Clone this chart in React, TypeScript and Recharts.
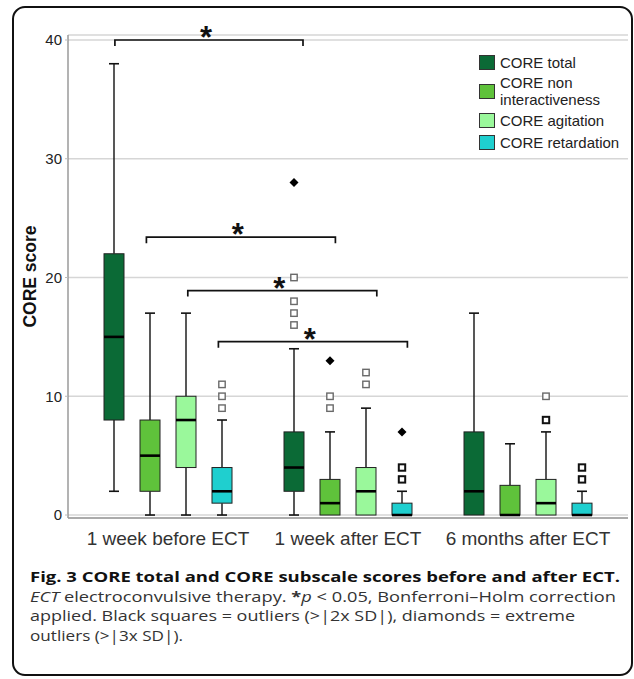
import {
  Bar,
  CartesianGrid,
  ComposedChart,
  Legend,
  ReferenceLine,
  XAxis,
  YAxis,
} from 'recharts';

const groups = ['1 week before ECT', '1 week after ECT', '6 months after ECT'];
const groupPos = [0.5, 1.5, 2.5];
const seriesKeys = ['total', 'nonInter', 'agitation', 'retardation'];
const seriesNames = ['CORE total', 'CORE non interactiveness', 'CORE agitation', 'CORE retardation'];
const seriesColors = ['#0b6a36', '#5fc23b', '#9af89b', '#1fcfcf'];

// [min, Q1, median, Q3, max] per time point
const totalStats = [[2, 8, 15, 22, 38], [0, 2, 4, 7, 14], [0, 0, 2, 7, 17]];
const nonInterStats = [[0, 2, 5, 8, 17], [0, 0, 1, 3, 7], [0, 0, 0, 2.5, 6]];
const agitationStats = [[0, 4, 8, 10, 17], [0, 0, 2, 4, 9], [0, 0, 1, 3, 7]];
const retardationStats = [[0, 1, 2, 4, 8], [0, 0, 0, 1, 2], [0, 0, 0, 1, 2]];

// 'o' = outlier (grey square), 'b' = outlier (black square), 'x' = extreme (diamond)
const totalOutliers = [[], [[16, 'o'], [17, 'o'], [18, 'o'], [20, 'o'], [28, 'x']], []];
const nonInterOutliers = [[], [[9, 'o'], [10, 'o'], [13, 'x']], []];
const agitationOutliers = [[], [[11, 'o'], [12, 'o']], [[8, 'b'], [10, 'o']]];
const retardationOutliers = [[[9, 'o'], [10, 'o'], [11, 'o']], [[3, 'b'], [4, 'b'], [7, 'x']], [[3, 'b'], [4, 'b']]];

// significance brackets (position on the time-point axis, score level)
const bracketFrom = [0.205, 0.38, 0.61, 0.78];
const bracketTo = [1.25, 1.43, 1.66, 1.83];
const bracketY = [40, 23.4, 18.9, 14.6];

const yTicks = [0, 10, 20, 30, 40];

const statsBySeries: Record<string, number[][]> = {
  total: totalStats,
  nonInter: nonInterStats,
  agitation: agitationStats,
  retardation: retardationStats,
};
const outliersBySeries: Record<string, (number | string)[][][]> = {
  total: totalOutliers,
  nonInter: nonInterOutliers,
  agitation: agitationOutliers,
  retardation: retardationOutliers,
};

const data = groups.map((name, i) => {
  const row: any = { name, pos: groupPos[i], stats: {}, outliers: {} };
  seriesKeys.forEach((k) => {
    const s = statsBySeries[k][i];
    row[k] = [s[0], s[4]];
    row.stats[k] = s;
    row.outliers[k] = outliersBySeries[k][i];
  });
  return row;
});

const FONT = '"Liberation Sans", Arial, sans-serif';

function BoxShape(props: any) {
  const { x, y, width, height, payload, skey, color } = props;
  const [mn, q1, md, q3, mx] = payload.stats[skey];
  const k = height / (mx - mn);
  const py = (v: number) => y + (mx - v) * k;
  const cx = x + width / 2;
  const cap = 5;
  return (
    <g>
      {mx > q3 ? (
        <>
          <line x1={cx} x2={cx} y1={py(mx)} y2={py(q3)} stroke="#111" strokeWidth={1.4} />
          <line x1={cx - cap} x2={cx + cap} y1={py(mx)} y2={py(mx)} stroke="#111" strokeWidth={1.6} />
        </>
      ) : null}
      {mn < q1 ? (
        <>
          <line x1={cx} x2={cx} y1={py(q1)} y2={py(mn)} stroke="#111" strokeWidth={1.4} />
          <line x1={cx - cap} x2={cx + cap} y1={py(mn)} y2={py(mn)} stroke="#111" strokeWidth={1.6} />
        </>
      ) : null}
      <rect x={x} y={py(q3)} width={width} height={py(q1) - py(q3)} fill={color} stroke="#222" strokeWidth={1} />
      <line x1={x} x2={x + width} y1={py(md)} y2={py(md)} stroke="#000" strokeWidth={2.6} />
      {payload.outliers[skey].map(([v, kind]: [number, string], i: number) => {
        const oy = py(v);
        if (kind === 'x') {
          return <path key={i} d={`M${cx},${oy - 4.5}L${cx + 4.5},${oy}L${cx},${oy + 4.5}L${cx - 4.5},${oy}Z`} fill="#000" />;
        }
        return (
          <rect
            key={i}
            x={cx - 3.2}
            y={oy - 3.2}
            width={6.4}
            height={6.4}
            fill="#fff"
            stroke={kind === 'b' ? '#111' : '#6a6a6a'}
            strokeWidth={kind === 'b' ? 2 : 1.4}
          />
        );
      })}
    </g>
  );
}

function Bracket(props: any) {
  const { x1, y1, x2 } = props;
  const drop = 6;
  return (
    <g>
      <path d={`M${x1},${y1 + drop}V${y1}H${x2}V${y1 + drop}`} fill="none" stroke="#111" strokeWidth={1.7} />
      <text x={(x1 + x2) / 2 - 3} y={y1 + 8} textAnchor="middle" fontSize={31} fontWeight="bold" fontFamily={FONT} fill="#111">
        *
      </text>
    </g>
  );
}

function YLabel({ viewBox }: any) {
  const x = (viewBox?.x ?? 0) + 30;
  const y = (viewBox?.y ?? 0) + (viewBox?.height ?? 0) / 2;
  return (
    <text x={x} y={y} transform={`rotate(-90, ${x}, ${y})`} textAnchor="middle" dominantBaseline="central" fontSize={17.5} fontWeight="bold" fontFamily={FONT} fill="#111">
      CORE score
    </text>
  );
}

function LegendBox() {
  return (
    <div style={{ fontFamily: FONT, fontSize: 15, color: '#222' }}>
      {seriesNames.map((name, i) => {
        const lines = name === 'CORE non interactiveness' ? ['CORE non', 'interactiveness'] : [name];
        const multi = lines.length > 1;
        return (
          <div key={name} style={{ display: 'flex', alignItems: 'center', padding: multi ? '1px 0' : '3.5px 0' }}>
            <span style={{ width: 14, height: 13, background: seriesColors[i], border: '1px solid #333', marginRight: 5, flex: 'none' }} />
            <span style={{ lineHeight: multi ? '17px' : '15px' }}>
              {lines.map((l) => (
                <div key={l}>{l}</div>
              ))}
            </span>
          </div>
        );
      })}
    </div>
  );
}

export default function App() {
  return (
    <div style={{ position: 'absolute', left: 0, top: 0, width: 634, height: 679, background: '#fff', fontFamily: FONT }}>
      <ComposedChart
        width={634}
        height={560}
        data={data}
        margin={{ top: 35, right: 6, bottom: 12, left: 0 }}
        barSize={20}
        barGap={16}
      >
        <CartesianGrid vertical={false} stroke="#d6d6d6" strokeWidth={1.5} />
        <XAxis
          dataKey="name"
          padding={{ left: 10, right: 10 }}
          axisLine={{ stroke: '#9a9a9a', strokeWidth: 1.5 }}
          tickLine={false}
          tickMargin={8}
          height={30}
          tick={{ fontSize: 19, fill: '#333', fontFamily: FONT }}
        />
        <XAxis
          xAxisId="n"
          dataKey="pos"
          type="number"
          domain={['dataMin', 'dataMax']}
          padding={{ left: 100, right: 100 }}
          hide
        />
        <YAxis
          width={68}
          domain={[-0.25, 40.42]}
          ticks={yTicks}
          allowDataOverflow
          axisLine={{ stroke: '#9a9a9a', strokeWidth: 1.5 }}
          tickLine={{ stroke: '#bbb' }}
          tickSize={3}
          tickMargin={3}
          tick={{ fontSize: 15, fill: '#222', fontFamily: FONT }}
          label={{ content: (p: any) => <YLabel viewBox={p.viewBox} /> }}
        />
        {seriesKeys.map((k, i) => (
          <Bar
            key={k}
            dataKey={k}
            name={seriesNames[i]}
            fill={seriesColors[i]}
            isAnimationActive={false}
            shape={(p: any) => <BoxShape {...p} skey={k} color={seriesColors[i]} />}
          />
        ))}
        {bracketFrom.map((from, i) => (
          <ReferenceLine
            key={i}
            xAxisId="n"
            segment={[{ x: from, y: bracketY[i] }, { x: bracketTo[i], y: bracketY[i] }]}
            ifOverflow="visible"
            shape={(p: any) => <Bracket {...p} />}
          />
        ))}
        <Legend
          layout="vertical"
          align="center"
          verticalAlign="middle"
          content={() => <LegendBox />}
          wrapperStyle={{ position: 'absolute', top: 51, left: 479, width: 150, height: 'auto' }}
        />
      </ComposedChart>
      <svg width={634} height={679} style={{ position: 'absolute', left: 0, top: 0, pointerEvents: 'none' }}>
        <rect x={13} y={7} width={619} height={668} rx={12} fill="none" stroke="#111" strokeWidth={2} />
        <g fontFamily='"Open Sans", "Noto Sans", sans-serif' fontSize={15}>
          <text x={30} y={582} fontWeight="bold" fill="#111" textLength={590} lengthAdjust="spacingAndGlyphs">
            Fig. 3 CORE total and CORE subscale scores before and after ECT.
          </text>
          <text x={30} y={602} fill="#333" textLength={586} lengthAdjust="spacingAndGlyphs">
            <tspan fontStyle="italic">ECT</tspan> electroconvulsive therapy. <tspan fontWeight="bold">*</tspan>
            <tspan fontStyle="italic">p</tspan> {'< 0.05, Bonferroni–Holm correction'}
          </text>
          <text x={30} y={621} fill="#333" textLength={545} lengthAdjust="spacingAndGlyphs">
            applied. Black squares = outliers (&gt;|2x SD|), diamonds = extreme
          </text>
          <text x={30} y={641} fill="#333" textLength={153} lengthAdjust="spacingAndGlyphs">
            outliers (&gt;|3x SD|).
          </text>
        </g>
      </svg>
    </div>
  );
}
